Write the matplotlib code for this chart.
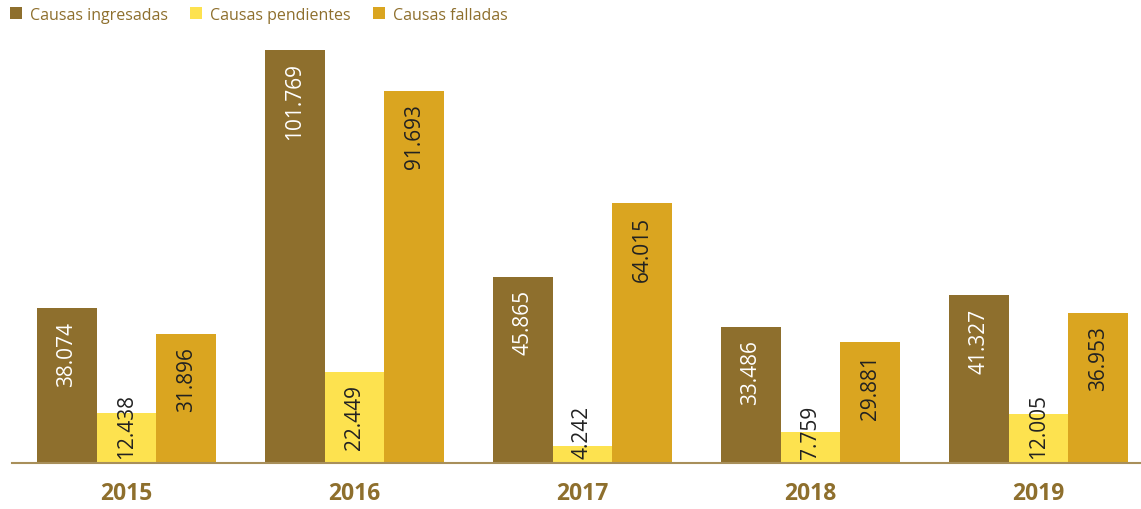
import matplotlib
matplotlib.use("Agg")
import matplotlib.pyplot as plt
import matplotlib.transforms as mtransforms
from matplotlib.patches import Patch
import numpy as np

years = ["2015", "2016", "2017", "2018", "2019"]
series_names = ["Causas ingresadas", "Causas pendientes", "Causas falladas"]
ingresadas = [38.074, 101.769, 45.865, 33.486, 41.327]
pendientes = [12.438, 22.449, 4.242, 7.759, 12.005]
falladas = [31.896, 91.693, 64.015, 29.881, 36.953]

colors = ["#8E6F2D", "#FDE24F", "#DAA520"]
label_colors = ["white", "#222222", "#222222"]
brown = "#8E6F2D"

plt.rcParams["font.family"] = ["Open Sans", "DejaVu Sans"]

fig = plt.figure(figsize=(11.41, 5.10), dpi=100)
ax = fig.add_axes([12 / 1141, 46 / 510, 1129 / 1141, 414 / 510])

x = np.arange(len(years))
width = 0.262
offsets = [-width, 0, width]

for vals, off, col, lcol in zip([ingresadas, pendientes, falladas], offsets, colors, label_colors):
    bars = ax.bar(x + off, vals, width, color=col, edgecolor="none")
    for b, v in zip(bars, vals):
        txt = f"{v:.3f}"
        cx = b.get_x() + b.get_width() / 2
        if v > 20:
            ax.text(cx, v - 3.0, txt, rotation=90, ha="center", va="top",
                    color=lcol, fontsize=15)
        else:
            ax.text(cx, 1.2, txt, rotation=90, ha="center", va="bottom",
                    color=lcol, fontsize=15)

ax.set_xlim(-0.502, 4.45)
ax.set_ylim(0, 101.769 * 414 / 413)
for s in ["top", "right", "left"]:
    ax.spines[s].set_visible(False)
ax.spines["bottom"].set_color("#A88F5A")
ax.spines["bottom"].set_linewidth(1.5)
ax.set_yticks([])
ax.set_xticks([])

trans = mtransforms.blended_transform_factory(ax.transData, fig.transFigure)
for xi, yr in zip(x, years):
    ax.text(xi, 1 - 494 / 510, yr, transform=trans, ha="center", va="center",
            fontsize=16.5, fontweight="bold", color=brown)

handles = [Patch(facecolor=c, edgecolor="none") for c in colors]
leg = fig.legend(handles, series_names, loc="upper left", bbox_to_anchor=(0.0, 1.004),
                 ncol=3, frameon=False, fontsize=11.5, handlelength=0.75, handleheight=0.75,
                 handletextpad=0.5, columnspacing=1.4, borderaxespad=0.2)
for t in leg.get_texts():
    t.set_color(brown)

fig.savefig("out.png", dpi=100)
